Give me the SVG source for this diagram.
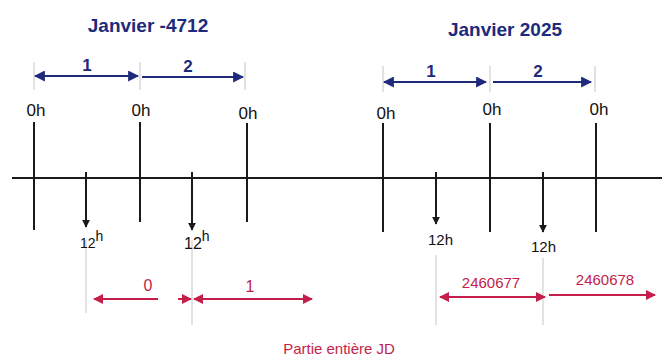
<svg xmlns="http://www.w3.org/2000/svg" width="668" height="363" viewBox="0 0 668 363">
<style>
.blue{fill:#1e2a7a;font-family:"Liberation Sans",Arial,sans-serif;font-weight:bold}
.ink{fill:#111;font-family:"Liberation Sans",Arial,sans-serif}
.red{fill:#c41e4a;font-family:"Liberation Sans",Arial,sans-serif}
.axis{stroke:#1a1a1a;stroke-width:2;fill:none}
.tick{stroke:#1a1a1a;stroke-width:2;fill:none}
.guide{stroke:#cfcfcf;stroke-width:1.2;fill:none}
.barrow{stroke:#1e2a7a;stroke-width:2.2;fill:none}
.rarrow{stroke:#c41e4a;stroke-width:2;fill:none}
</style>
<defs>
<marker id="bh" viewBox="0 0 10 10" refX="9" refY="5" markerWidth="5" markerHeight="5" orient="auto-start-reverse"><path d="M0,0 L10,5 L0,10 z" fill="#1e2a7a"/></marker>
<marker id="kh" viewBox="0 0 10 10" refX="9" refY="5" markerWidth="4" markerHeight="4" orient="auto"><path d="M0,0 L10,5 L0,10 z" fill="#1a1a1a"/></marker>
<marker id="rh" viewBox="0 0 10 10" refX="9" refY="5" markerWidth="5" markerHeight="5" orient="auto-start-reverse"><path d="M0,0 L10,5 L0,10 z" fill="#c41e4a"/></marker>
</defs>
<rect width="668" height="363" fill="#fff"/>

<g id="connectors">
<line class="axis" x1="12" y1="178" x2="662" y2="178"/>
<line class="guide" x1="34" y1="62" x2="34" y2="90"/>
<line class="guide" x1="140" y1="62" x2="140" y2="90"/>
<line class="guide" x1="245" y1="62" x2="245" y2="90"/>
<line class="guide" x1="383" y1="66" x2="383" y2="92"/>
<line class="guide" x1="490" y1="66" x2="490" y2="92"/>
<line class="guide" x1="595" y1="66" x2="595" y2="92"/>
<line class="guide" x1="86" y1="240" x2="86" y2="313"/>
<line class="guide" x1="192" y1="240" x2="192" y2="325"/>
<line class="guide" x1="436" y1="255" x2="436" y2="325"/>
<line class="guide" x1="543" y1="258" x2="543" y2="325"/>
<line class="barrow" x1="35" y1="76" x2="138" y2="76" marker-start="url(#bh)" marker-end="url(#bh)"/>
<line class="barrow" x1="142" y1="77" x2="243" y2="77" marker-end="url(#bh)"/>
<line class="barrow" x1="384" y1="82" x2="486" y2="82" marker-start="url(#bh)" marker-end="url(#bh)"/>
<line class="barrow" x1="493" y1="82" x2="591" y2="82" marker-end="url(#bh)"/>
<line class="rarrow" x1="94" y1="299" x2="158" y2="299" marker-start="url(#rh)"/>
<line class="rarrow" x1="178" y1="299" x2="191" y2="299" marker-end="url(#rh)"/>
<line class="rarrow" x1="194" y1="299" x2="312" y2="299" marker-start="url(#rh)" marker-end="url(#rh)"/>
<line class="rarrow" x1="440" y1="297" x2="545" y2="297" marker-start="url(#rh)" marker-end="url(#rh)"/>
<line class="rarrow" x1="549" y1="295" x2="655" y2="295" marker-end="url(#rh)"/>
</g>

<g id="title-left"><text class="blue" x="148" y="32" font-size="19" text-anchor="middle">Janvier -4712</text></g>
<g id="title-right"><text class="blue" x="505" y="36" font-size="19" text-anchor="middle">Janvier 2025</text></g>

<g id="day-labels">
<text class="blue" x="87" y="71" font-size="17" text-anchor="middle">1</text>
<text class="blue" x="188" y="72" font-size="17" text-anchor="middle">2</text>
<text class="blue" x="431" y="77" font-size="17" text-anchor="middle">1</text>
<text class="blue" x="538" y="77" font-size="17" text-anchor="middle">2</text>
</g>

<g id="midnight-ticks">
<line class="tick" x1="34" y1="122" x2="34" y2="230"/>
<line class="tick" x1="140" y1="122" x2="140" y2="222"/>
<line class="tick" x1="247" y1="123" x2="247" y2="222"/>
<line class="tick" x1="383" y1="123" x2="383" y2="232"/>
<line class="tick" x1="490" y1="123" x2="490" y2="232"/>
<line class="tick" x1="596" y1="123" x2="596" y2="232"/>
<text class="ink" x="36" y="116" font-size="17" text-anchor="middle">0h</text>
<text class="ink" x="141" y="116" font-size="17" text-anchor="middle">0h</text>
<text class="ink" x="248" y="119" font-size="17" text-anchor="middle">0h</text>
<text class="ink" x="386" y="119" font-size="17" text-anchor="middle">0h</text>
<text class="ink" x="492" y="115" font-size="17" text-anchor="middle">0h</text>
<text class="ink" x="599" y="115" font-size="17" text-anchor="middle">0h</text>
</g>

<g id="noon-arrows">
<line class="tick" x1="86" y1="172" x2="86" y2="227" marker-end="url(#kh)"/>
<line class="tick" x1="192" y1="172" x2="192" y2="230" marker-end="url(#kh)"/>
<line class="tick" x1="436" y1="172" x2="436" y2="224" marker-end="url(#kh)"/>
<line class="tick" x1="543" y1="172" x2="543" y2="232" marker-end="url(#kh)"/>
<text class="ink" x="80" y="248" font-size="14">12<tspan dy="-7" font-size="14">h</tspan></text>
<text class="ink" x="184" y="249" font-size="16">12<tspan dy="-8" font-size="14">h</tspan></text>
<text class="ink" x="428" y="245" font-size="15">12h</text>
<text class="ink" x="531" y="252" font-size="15">12h</text>
</g>

<g id="jd-labels">
<text class="red" x="148" y="291" font-size="16" text-anchor="middle">0</text>
<text class="red" x="250" y="292" font-size="16" text-anchor="middle">1</text>
<text class="red" x="491" y="288" font-size="15" text-anchor="middle">2460677</text>
<text class="red" x="605" y="285" font-size="15" text-anchor="middle">2460678</text>
<text class="red" x="339" y="354" font-size="15" text-anchor="middle">Partie entière JD</text>
</g>
</svg>
